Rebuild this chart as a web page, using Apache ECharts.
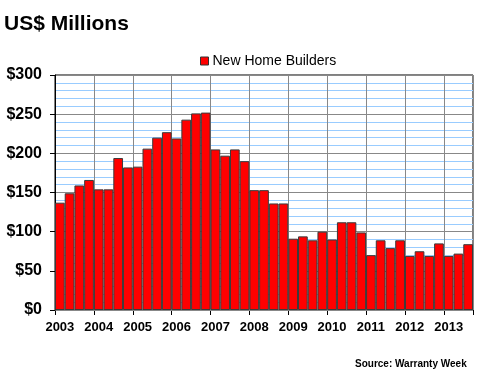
<!DOCTYPE html>
<html>
<head>
<meta charset="utf-8">
<script src="https://cdn.jsdelivr.net/npm/echarts@6/dist/echarts.min.js"></script>
<style>html,body{margin:0;padding:0;background:#fff}#c{width:480px;height:380px}</style>
</head>
<body>
<div id="c"></div>
<script>
const quarters = [
 '2003 Q1','2003 Q2','2003 Q3','2003 Q4',
 '2004 Q1','2004 Q2','2004 Q3','2004 Q4',
 '2005 Q1','2005 Q2','2005 Q3','2005 Q4',
 '2006 Q1','2006 Q2','2006 Q3','2006 Q4',
 '2007 Q1','2007 Q2','2007 Q3','2007 Q4',
 '2008 Q1','2008 Q2','2008 Q3','2008 Q4',
 '2009 Q1','2009 Q2','2009 Q3','2009 Q4',
 '2010 Q1','2010 Q2','2010 Q3','2010 Q4',
 '2011 Q1','2011 Q2','2011 Q3','2011 Q4',
 '2012 Q1','2012 Q2','2012 Q3','2012 Q4',
 '2013 Q1','2013 Q2','2013 Q3'
];
const newHomeBuilders = [
 137,149,159,166,
 154,154,194,182,
 183,206,220,227,
 219,243,251,252,
 205,197,205,190,
 153,153,136,136,
 91,94,89,100,
 90,112,112,99,
 70,89,79,89,
 69,75,69,85,
 69,72,84
];
const seriesName = 'New Home Builders';
const titleText = 'US$ Millions';
const sourceText = 'Source: Warranty Week';
const FONT = '"Liberation Sans", Arial, sans-serif';

const chart = echarts.init(document.getElementById('c'), null, {renderer: 'canvas'});
chart.setOption({
  animation: false,
  backgroundColor: '#ffffff',
  title: [
    {text: titleText, left: 4, top: 14, padding: 0,
     textStyle: {fontFamily: FONT, fontSize: 21, fontWeight: 'bold', color: '#000'}},
    {text: sourceText, left: 355, top: 359, padding: 0,
     textStyle: {fontFamily: FONT, fontSize: 10, fontWeight: 'bold', color: '#000'}}
  ],
  legend: {
    data: [seriesName], left: 200, top: 54, padding: 0,
    itemWidth: 8, itemHeight: 8, itemGap: 4, icon: 'rect',
    itemStyle: {color: '#ff0000', borderColor: '#333', borderWidth: 1},
    textStyle: {fontFamily: FONT, fontSize: 14, color: '#000', padding: [0,0,0,-1]}
  },
  grid: {left: 55, top: 75, right: 7, bottom: 70, show: true,
         borderColor: '#000', borderWidth: 1, backgroundColor: 'transparent'},
  xAxis: {
    type: 'category', data: quarters, boundaryGap: true,
    axisLine: {lineStyle: {color: '#000', width: 1}},
    axisTick: {show: true, interval: 3, length: 5, lineStyle: {color: '#000'}},
    splitLine: {show: true, interval: 3, lineStyle: {color: '#888', width: 1}},
    axisLabel: {interval: 3, margin: 11, fontFamily: FONT, fontSize: 13, fontWeight: 'bold', color: '#000',
      formatter: v => v.slice(0,4)}
  },
  yAxis: [
    {type: 'value', min: 0, max: 300, interval: 10, z: 0,
     axisLine: {show: false}, axisTick: {show: false}, axisLabel: {show: false},
     splitLine: {show: true, lineStyle: {color: '#99ccff', width: 1}}},
    {type: 'value', min: 0, max: 300, interval: 50, position: 'left', z: 1,
     axisLine: {show: true, lineStyle: {color: '#000', width: 1}},
     axisTick: {show: true, length: 5, lineStyle: {color: '#000'}},
     splitLine: {show: true, lineStyle: {color: '#888', width: 1}},
     axisLabel: {margin: 13, fontFamily: FONT, fontSize: 16, fontWeight: 'bold', color: '#000',
       formatter: v => '$' + v}}
  ],
  series: [{
    name: seriesName, type: 'bar', yAxisIndex: 1, data: newHomeBuilders,
    barCategoryGap: 0, barGap: 0,
    itemStyle: {color: '#ff0000', borderColor: '#3a3a3a', borderWidth: 1}
  }]
});
</script>
</body>
</html>
